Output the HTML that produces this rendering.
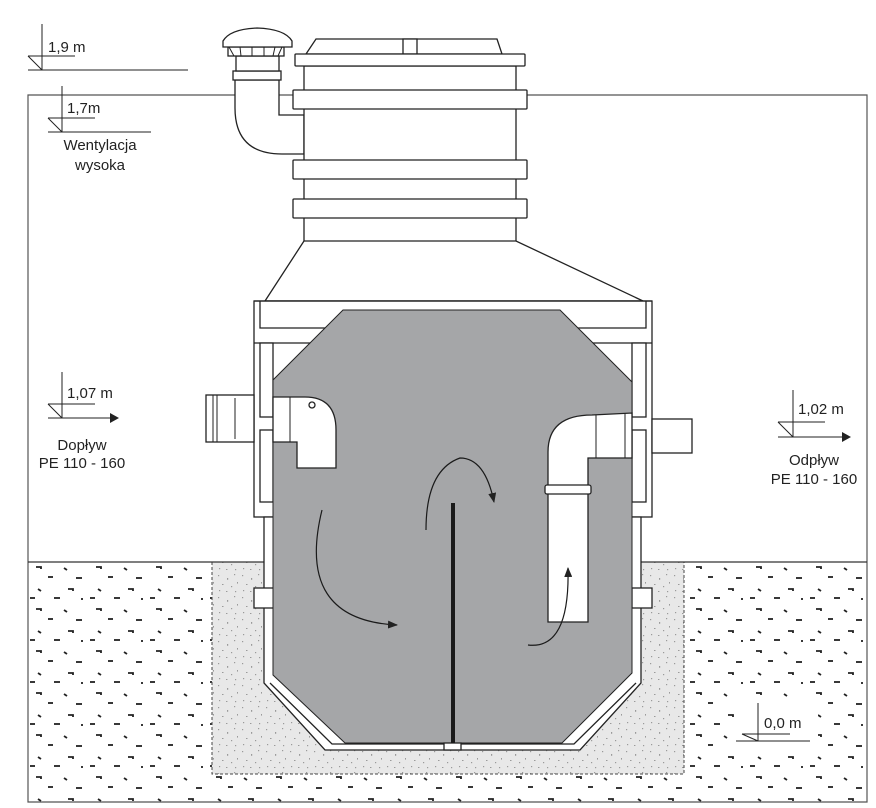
<!DOCTYPE html>
<html><head><meta charset="utf-8"><style>
html,body{margin:0;padding:0;background:#fff}
svg{display:block}
text{font-family:"Liberation Sans",sans-serif;fill:#222}
</style></head><body>
<svg width="876" height="808" viewBox="0 0 876 808" xmlns="http://www.w3.org/2000/svg">
<defs>
<pattern id="soil" x="28" y="562" width="60" height="42" patternUnits="userSpaceOnUse">
<g stroke="#222" stroke-width="1.8" fill="none">
<path d="M8 5h5v2"/><path d="M36 6l3 2"/><path d="M48 16h6"/><path d="M20 15h5"/>
<path d="M10 27l3 2"/><path d="M40 27h5v2"/><path d="M26 36h6"/><path d="M54 36v2"/><path d="M2 36h5"/>
</g>
</pattern>
<pattern id="grav" x="0" y="0" width="24" height="22" patternUnits="userSpaceOnUse">
<rect width="24" height="22" fill="#e8e8e8"/>
<g fill="#9a9a9a">
<rect x="2" y="3" width="1.2" height="1.2"/><rect x="11" y="6" width="1.2" height="1.8"/><rect x="18" y="2" width="1.2" height="1.2"/>
<rect x="6" y="12" width="1.5" height="1"/><rect x="15" y="14" width="1.2" height="1.2"/><rect x="21" y="10" width="1" height="1.6"/>
<rect x="3" y="18" width="1.2" height="1.2"/><rect x="10" y="19" width="1.4" height="1"/><rect x="19" y="19" width="1.2" height="1.2"/>
</g>
</pattern>
<marker id="ah" markerWidth="10" markerHeight="8" refX="9" refY="4" orient="auto" markerUnits="userSpaceOnUse">
<path d="M0 0L10 4L0 8Z" fill="#222"/>
</marker>
</defs>

<!-- soil -->
<rect x="28" y="562" width="839" height="240" fill="url(#soil)"/>
<rect x="734" y="698" width="84" height="50" fill="#fff"/>
<rect x="212" y="562" width="472" height="212" fill="url(#grav)" stroke="#444" stroke-dasharray="3,2" stroke-width="1"/>

<!-- frame -->
<path d="M28 802V95H867V802Z" fill="none" stroke="#555" stroke-width="1.2"/>
<line x1="28" y1="562" x2="867" y2="562" stroke="#333" stroke-width="1.2"/>

<g stroke="#222" stroke-width="1.3" fill="#fff">
<!-- vent -->
<path d="M235 80V108Q235 154 282 154H304V115H279V80Z"/>
<rect x="233" y="71" width="48" height="9"/>
<rect x="236" y="56" width="43" height="15"/>
<rect x="228" y="47" width="56" height="9"/>
<path d="M229 47L234 56M240 47L241 56M252 47V56M264 47V56M275 47L273 56M282 47L278 56" fill="none" stroke-width="1"/>
<path d="M223 47V41Q230 29 257 28Q285 29 292 41V47Z"/>
<!-- shaft -->
<rect x="304" y="66" width="212" height="176"/>
<path d="M316 39H497L502 54H306Z"/>
<rect x="403" y="39" width="14" height="15"/>
<rect x="295" y="54" width="230" height="12" rx="1"/>
<rect x="293" y="90" width="234" height="19" rx="1"/>
<rect x="293" y="160" width="234" height="19" rx="1"/>
<rect x="293" y="199" width="234" height="19" rx="1"/>
<!-- cone -->
<path d="M304 241L265 301H643L516 241Z"/>
<!-- body upper frame -->
<rect x="254" y="301" width="398" height="216"/>
<path d="M254 301H652M260 301V328H646V301M254 343H652" fill="none"/>
<rect x="260" y="343" width="13" height="74"/>
<rect x="260" y="430" width="13" height="72"/>
<rect x="632" y="343" width="14" height="74"/>
<rect x="632" y="430" width="14" height="72"/>
<!-- lower walls -->
<path d="M264 517V683L325 750H580L641 683V517Z"/>
<rect x="254" y="588" width="20" height="20"/>
<rect x="632" y="588" width="20" height="20"/>
<path d="M270 683L332 744H574L636 683" fill="none"/>
<!-- pipes -->
<rect x="206" y="395" width="48" height="47"/>
<path d="M213 395V442M217 395V442M235 398V439" fill="none" stroke-width="1"/>
<rect x="652" y="419" width="40" height="34"/>
</g>

<!-- grey interior -->
<path d="M343 310H560L632 382V673L562 743H345L273 675V380Z" fill="#a5a6a8" stroke="#222" stroke-width="1"/>

<g stroke="#222" stroke-width="1.3" fill="#fff">
<path d="M273 397H305Q336 397 336 430V468H297V442H273Z"/>
<path d="M290 397V442" fill="none" stroke-width="1"/>
<circle cx="312" cy="405" r="3"/>
<path d="M548 622V452Q548 415 592 415L632 413V458H588V622Z"/>
<path d="M596 415V458M625 413V458" fill="none" stroke-width="1"/>
<rect x="545" y="485" width="46" height="9" rx="2"/>
<rect x="444" y="743" width="17" height="7"/>
</g>
<rect x="451" y="503" width="4" height="240" fill="#1a1a1a"/>

<!-- flow arrows -->
<g fill="none" stroke="#1a1a1a" stroke-width="1.2" marker-end="url(#ah)">
<path d="M322 510Q295 620 397 625"/>
<path d="M426 530Q426 470 460 458Q485 458 494 502"/>
<path d="M528 645Q570 650 568 568"/>
</g>

<!-- datum markers -->
<g stroke="#222" stroke-width="1" fill="none">
<path d="M42 24V70M28 56H75M28 70H188M28 56L42 70"/>
<path d="M62 86V132M48 118H95M48 132H151M48 118L62 132"/>
<path d="M62 372V418M48 404H95M48 418H110M48 404L62 418"/>
<path d="M793 390V437M778 422H825M778 437H842M778 422L793 437"/>
<path d="M758 703V741M742 734H790M736 741H810M742 734L758 741"/>
</g>
<path d="M110 413L119 418L110 423Z" fill="#222"/>
<path d="M842 432L851 437L842 442Z" fill="#222"/>

<g font-size="15">
<text x="48" y="52">1,9 m</text>
<text x="67" y="113">1,7m</text>
<text x="100" y="150" text-anchor="middle">Wentylacja</text>
<text x="100" y="170" text-anchor="middle">wysoka</text>
<text x="67" y="398">1,07 m</text>
<text x="82" y="450" text-anchor="middle">Dopływ</text>
<text x="82" y="468" text-anchor="middle">PE 110 - 160</text>
<text x="798" y="414">1,02 m</text>
<text x="814" y="465" text-anchor="middle">Odpływ</text>
<text x="814" y="484" text-anchor="middle">PE 110 - 160</text>
<text x="764" y="728">0,0 m</text>
</g>
</svg>
</body></html>
